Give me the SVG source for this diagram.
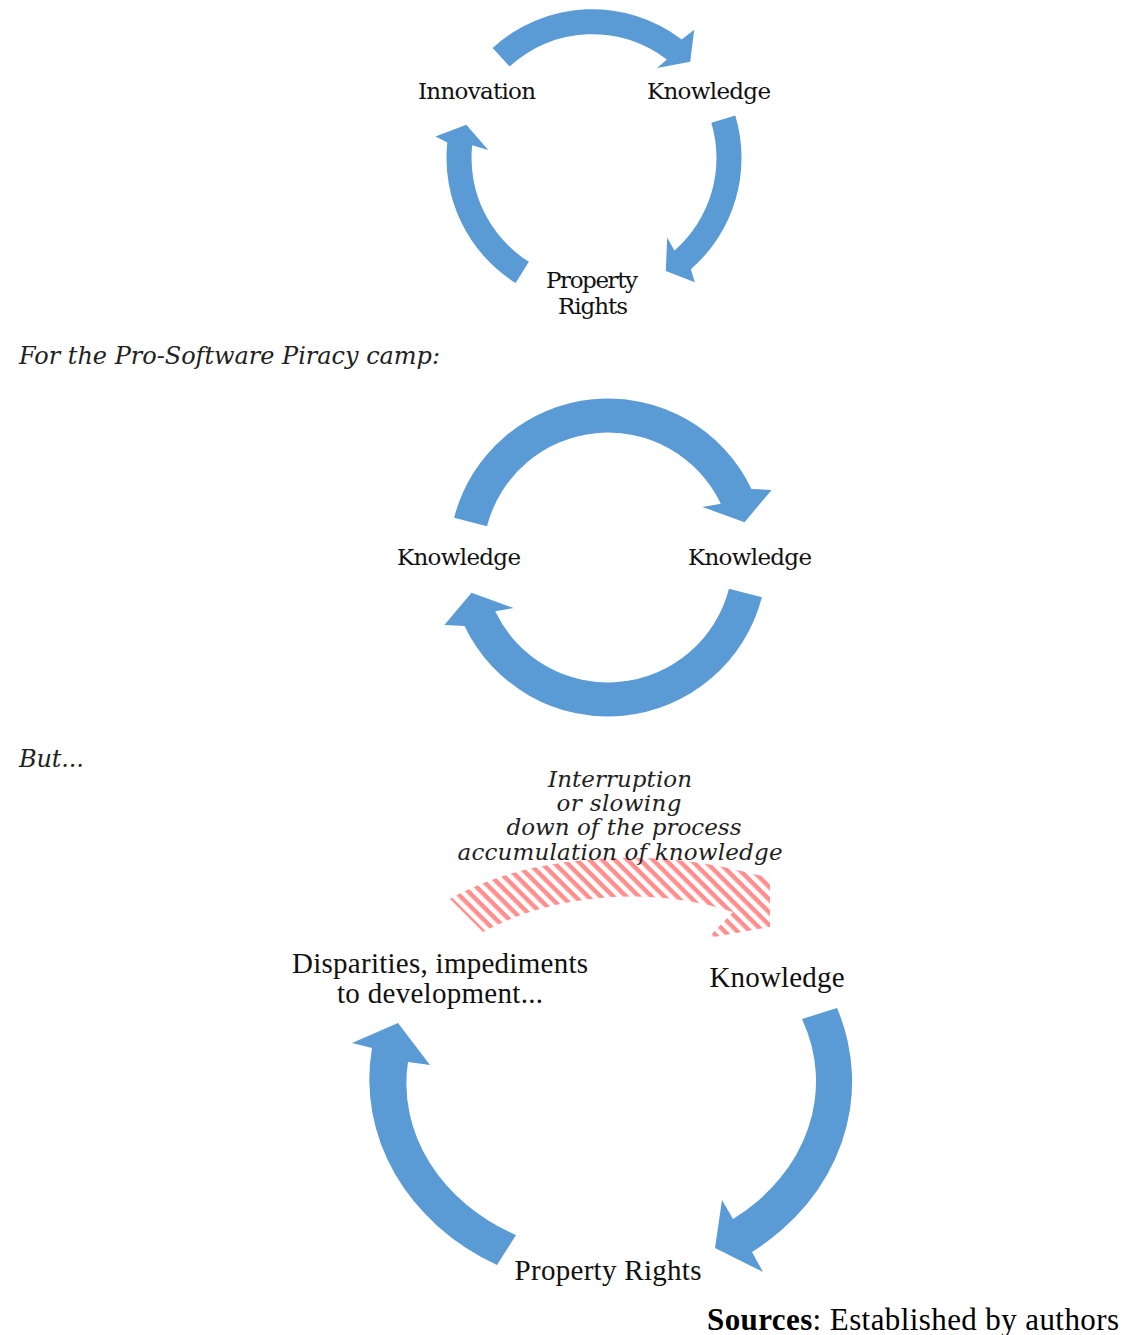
<svg xmlns="http://www.w3.org/2000/svg" width="1126" height="1335" viewBox="0 0 1126 1335">
<style>
.arr{fill:#5B9BD5;stroke:none}
.slab{font-family:"DejaVu Serif","Liberation Serif",serif;font-size:23px;fill:#111}
.ital{font-family:"DejaVu Serif","Liberation Serif",serif;font-style:italic;font-size:24px;fill:#222}
.ital2{font-family:"DejaVu Serif","Liberation Serif",serif;font-style:italic;font-size:23px;fill:#222}
.times{font-family:"Liberation Serif","Times New Roman",serif;font-size:29px;fill:#111}
.src{font-family:"Liberation Serif","Times New Roman",serif;font-size:31px;fill:#000}
</style>
<defs>
<pattern id="hatch" patternUnits="userSpaceOnUse" width="9" height="9" patternTransform="rotate(45)">
<rect x="0" y="0" width="9" height="4.5" fill="#ff8f8f"/>
</pattern>
</defs>
<rect width="1126" height="1335" fill="#fff"/>

<g id="connectors">
<path id="arrow-top-1" class="arr" d="M492.7,47.9 A147.5,147.5 0 0 1 681.7,39.4 L694.2,29.7 L690.2,61.8 L657.1,67.9 L666.9,59.5 A122.5,122.5 0 0 0 509.6,66.4 Z"/>
<path id="arrow-top-2" class="arr" d="M735.3,115.6 A147.5,147.5 0 0 1 690.8,269.3 L694.9,282.2 L665.8,271.1 L667.2,237.4 L674.4,250.5 A122.5,122.5 0 0 0 711.3,122.8 Z"/>
<path id="arrow-top-3" class="arr" d="M515.6,283.0 A147.5,147.5 0 0 1 447.3,142.6 L435.4,136.6 L466.3,124.7 L488.3,149.9 L472.2,145.2 A122.5,122.5 0 0 0 528.9,261.8 Z"/>
<path id="arrow-mid-1" class="arr" d="M454.1,517.7 A159,159 0 0 1 751.5,489.0 L771.6,490.0 L744.5,522.2 L702.3,506.9 L720.8,503.7 A125,125 0 0 0 487.0,526.2 Z"/>
<path id="arrow-mid-2" class="arr" d="M761.9,597.3 A159,159 0 0 1 464.5,626.0 L444.4,625.0 L471.5,592.8 L513.7,608.1 L495.2,611.3 A125,125 0 0 0 729.0,588.8 Z"/>
<path id="arrow-interrupted" fill="url(#hatch)" d="M450,899 C520,858 640,845 745,872 L770,878 L770,927 L708,938 L733,912 C660,888 560,890 483,932 Z"/>
<path id="arrow-bot-1" class="arr" d="M837,1008 A240,210 0 0 1 752,1252 L763,1272 L715,1248 L722,1200 L733,1219 A204,171 0 0 0 802,1019 Z"/>
<path id="arrow-bot-2" class="arr" d="M497,1265 A240,210 0 0 1 372,1048 L352,1043 L398,1023 L430,1065 L408,1062 A204,171 0 0 0 516,1235 Z"/>
</g>

<g id="node-innovation"><text class="slab" x="418" y="99" textLength="118">Innovation</text></g>
<g id="node-knowledge-top"><text class="slab" x="647" y="99" textLength="124">Knowledge</text></g>
<g id="node-property-top">
<text class="slab" x="592" y="288" text-anchor="middle" textLength="92">Property</text>
<text class="slab" x="593" y="314" text-anchor="middle" textLength="70">Rights</text>
</g>

<g id="caption-pro"><text class="ital" x="19" y="364" textLength="421">For the Pro-Software Piracy camp:</text></g>

<g id="node-knowledge-mid-left"><text class="slab" x="397" y="565" textLength="124">Knowledge</text></g>
<g id="node-knowledge-mid-right"><text class="slab" x="688" y="565" textLength="124">Knowledge</text></g>

<g id="caption-but"><text class="ital" x="19" y="767" textLength="65">But...</text></g>

<g id="note-interruption">
<text class="ital2" x="620" y="787" text-anchor="middle" textLength="144">Interruption</text>
<text class="ital2" x="619" y="811" text-anchor="middle" textLength="125">or slowing</text>
<text class="ital2" x="624" y="835" text-anchor="middle" textLength="235">down of the process</text>
<text class="ital2" x="620" y="860" text-anchor="middle" textLength="325">accumulation of knowledge</text>
</g>

<g id="node-disparities">
<text class="times" x="440" y="973" text-anchor="middle" textLength="296">Disparities, impediments</text>
<text class="times" x="440" y="1003" text-anchor="middle" textLength="206">to development...</text>
</g>
<g id="node-knowledge-bot"><text class="times" x="777" y="987" text-anchor="middle" textLength="135">Knowledge</text></g>
<g id="node-property-bot"><text class="times" x="608" y="1280" text-anchor="middle" textLength="187">Property Rights</text></g>

<g id="source"><text class="src" x="707" y="1330" textLength="412"><tspan font-weight="bold">Sources</tspan>: Established by authors</text></g>
</svg>
